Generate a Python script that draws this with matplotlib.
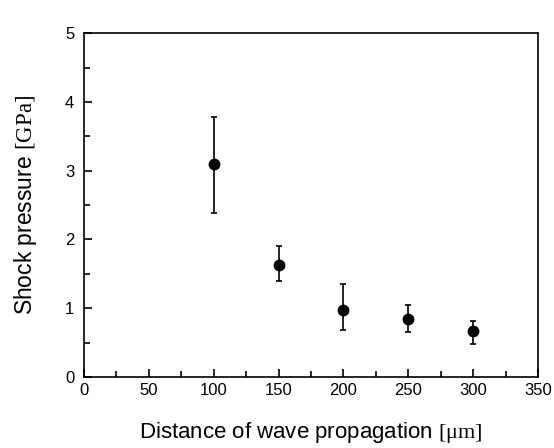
import matplotlib
matplotlib.use("Agg")
import matplotlib.pyplot as plt
from matplotlib.ticker import MultipleLocator

distance = [100, 150, 200, 250, 300]
pressure = [3.10, 1.63, 0.98, 0.85, 0.67]
err_upper = [3.78, 1.91, 1.35, 1.05, 0.81]
err_lower = [2.39, 1.39, 0.68, 0.66, 0.48]

plt.rcParams['font.family'] = ['Liberation Sans', 'DejaVu Sans']
plt.rcParams['mathtext.fontset'] = 'custom'
plt.rcParams['mathtext.rm'] = 'Liberation Serif'

fig = plt.figure(figsize=(5.54, 4.48), dpi=100)
ax = fig.add_axes([0.1516, 0.1585, 0.8194, 0.7675])

yerr = [[p - l for p, l in zip(pressure, err_lower)],
        [u - p for p, u in zip(pressure, err_upper)]]
ax.errorbar(distance, pressure, yerr=yerr, fmt='o', color='black',
            markersize=7.5, capsize=2.5, elinewidth=1.2, capthick=1.2)

ax.set_xlim(0, 350)
ax.set_ylim(0, 5)
ax.xaxis.set_major_locator(MultipleLocator(50))
ax.xaxis.set_minor_locator(MultipleLocator(25))
ax.yaxis.set_major_locator(MultipleLocator(1))
ax.yaxis.set_minor_locator(MultipleLocator(0.5))
ax.tick_params(which='both', direction='in', top=False, right=False,
               labelsize=12, width=1.2, colors='black')
ax.tick_params(which='major', length=6)
ax.tick_params(which='minor', length=4)
ax.tick_params(axis='x', which='major', pad=4.5)
ax.tick_params(axis='y', which='major', pad=7)
for s in ax.spines.values():
    s.set_linewidth(1.2)

ax.set_xlabel(r'Distance of wave propagation $\mathrm{[μm]}$', fontsize=16)
ax.set_ylabel(r'Shock pressure $\mathrm{[GPa]}$', fontsize=16.5)
ax.xaxis.set_label_coords(0.5, -0.125)
ax.yaxis.set_label_coords(-0.10, 0.5)

fig.savefig('out.png', dpi=100)
